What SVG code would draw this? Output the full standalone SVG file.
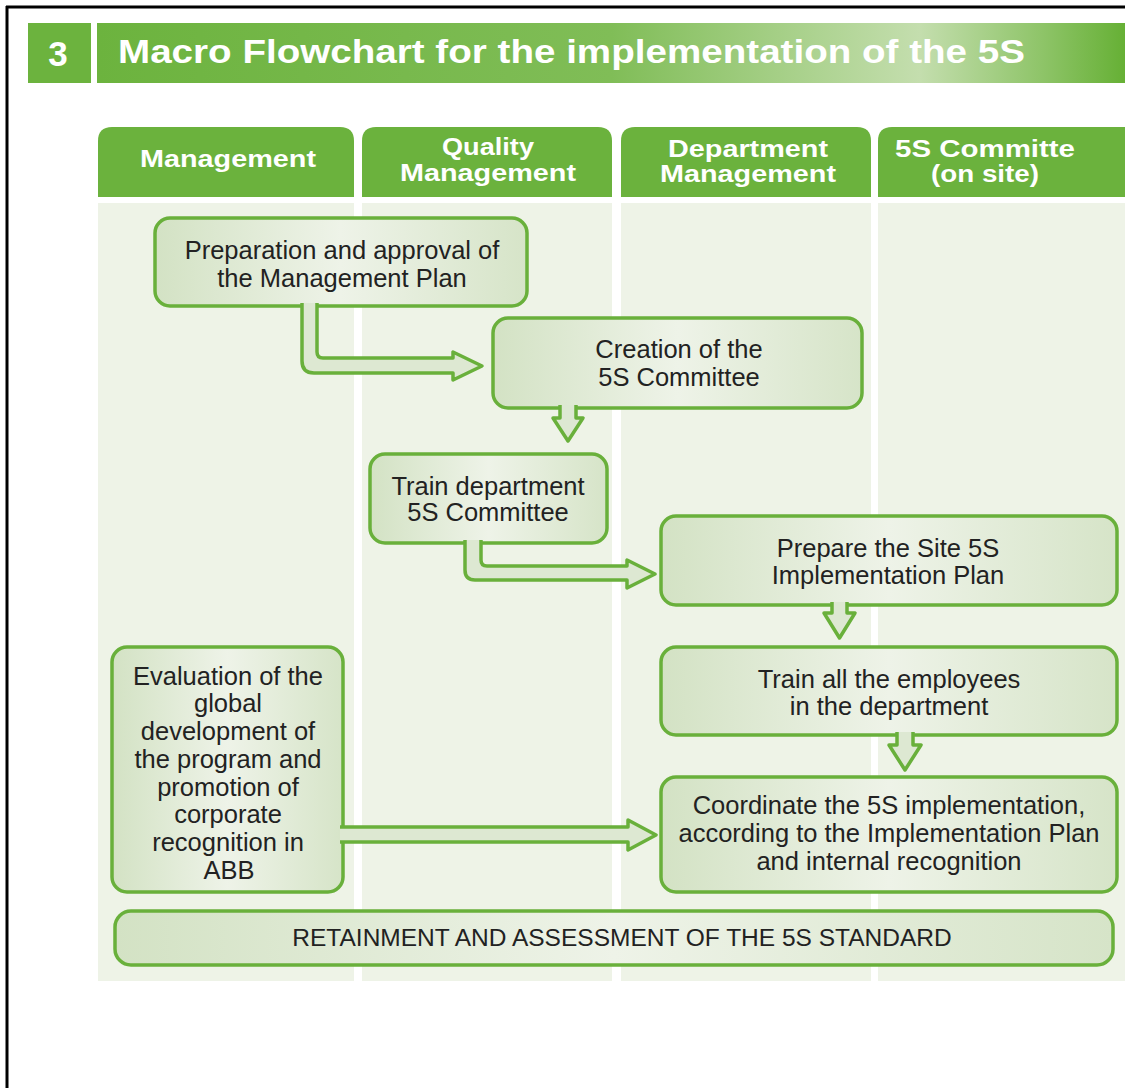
<svg xmlns="http://www.w3.org/2000/svg" width="1125" height="1088" viewBox="0 0 1125 1088">
<style>
.hdr{fill:#6bb23d}
.col{fill:#eef3e7}
.htxt{font-family:"Liberation Sans",Arial,sans-serif;font-weight:bold;font-size:23px;fill:#ffffff;text-anchor:middle}
.box{fill:url(#boxg);stroke:#69b03b;stroke-width:3.5}
.t{font-family:"Liberation Sans",Arial,sans-serif;font-size:25.5px;fill:#222222;text-anchor:middle}
.t8{font-family:"Liberation Sans",Arial,sans-serif;font-size:24.5px;fill:#222222;text-anchor:middle}
.arr{fill:#dde8d2;stroke:#69b03b;stroke-width:3.5;stroke-linejoin:round}
</style>
<defs>
<linearGradient id="titleg" x1="97" y1="0" x2="1125" y2="0" gradientUnits="userSpaceOnUse">
<stop offset="0" stop-color="#6cb33e"/>
<stop offset="0.5" stop-color="#80bd57"/>
<stop offset="0.8" stop-color="#c4deae"/>
<stop offset="0.92" stop-color="#8ec468"/>
<stop offset="1" stop-color="#66b035"/>
</linearGradient>
<linearGradient id="boxg" x1="0" y1="0" x2="1" y2="0">
<stop offset="0" stop-color="#d3e2c4"/>
<stop offset="0.5" stop-color="#eef3e8"/>
<stop offset="1" stop-color="#d6e4c8"/>
</linearGradient>
</defs>
<rect x="0" y="0" width="1125" height="1088" fill="#ffffff"/>
<line x1="7" y1="6" x2="7" y2="1088" stroke="#000000" stroke-width="3"/>
<line x1="6" y1="7" x2="1125" y2="7" stroke="#000000" stroke-width="3"/>

<g id="title">
<rect x="28" y="23" width="63" height="60" fill="#6cb33e"/>
<text x="58" y="66" font-family="'Liberation Sans',Arial,sans-serif" font-weight="bold" font-size="35" fill="#ffffff" text-anchor="middle">3</text>
<rect x="97" y="23" width="1028" height="60" fill="url(#titleg)"/>
<text x="118" y="63" font-family="'Liberation Sans',Arial,sans-serif" font-weight="bold" font-size="34" fill="#ffffff" textLength="907" lengthAdjust="spacingAndGlyphs">Macro Flowchart for the implementation of the 5S</text>
</g>

<g id="lanes">
<rect class="col" x="98" y="203" width="256" height="778"/>
<rect class="col" x="362" y="203" width="250" height="778"/>
<rect class="col" x="621" y="203" width="250" height="778"/>
<rect class="col" x="878" y="203" width="247" height="778"/>
<g id="lane-management">
<path class="hdr" d="M98,197 L98,141 Q98,127 112,127 L340,127 Q354,127 354,141 L354,197 Z"/>
<text class="htxt" x="228" y="167" textLength="176" lengthAdjust="spacingAndGlyphs">Management</text>
</g>
<g id="lane-quality">
<path class="hdr" d="M362,197 L362,141 Q362,127 376,127 L598,127 Q612,127 612,141 L612,197 Z"/>
<text class="htxt" x="488" y="155" textLength="92" lengthAdjust="spacingAndGlyphs">Quality</text>
<text class="htxt" x="488" y="181" textLength="176" lengthAdjust="spacingAndGlyphs">Management</text>
</g>
<g id="lane-department">
<path class="hdr" d="M621,197 L621,141 Q621,127 635,127 L857,127 Q871,127 871,141 L871,197 Z"/>
<text class="htxt" x="748" y="157" textLength="160" lengthAdjust="spacingAndGlyphs">Department</text>
<text class="htxt" x="748" y="182" textLength="176" lengthAdjust="spacingAndGlyphs">Management</text>
</g>
<g id="lane-committee">
<path class="hdr" d="M878,197 L878,141 Q878,127 892,127 L1140,127 L1140,197 Z"/>
<text class="htxt" x="985" y="157" textLength="180" lengthAdjust="spacingAndGlyphs">5S Committe</text>
<text class="htxt" x="985" y="182" textLength="108" lengthAdjust="spacingAndGlyphs">(on site)</text>
</g>
</g>

<g id="n1">
<rect class="box" x="155" y="218" width="372" height="88" rx="15"/>
<text class="t" x="342" y="259">Preparation and approval of</text>
<text class="t" x="342" y="287">the Management Plan</text>
</g>
<g id="n2">
<rect class="box" x="493" y="318" width="369" height="90" rx="15"/>
<text class="t" x="679" y="358">Creation of the</text>
<text class="t" x="679" y="386">5S Committee</text>
</g>
<g id="n3">
<rect class="box" x="370" y="454" width="237" height="89" rx="15"/>
<text class="t" x="488" y="495">Train department</text>
<text class="t" x="488" y="521">5S Committee</text>
</g>
<g id="n4">
<rect class="box" x="661" y="516" width="456" height="89" rx="15"/>
<text class="t" x="888" y="557">Prepare the Site 5S</text>
<text class="t" x="888" y="584">Implementation Plan</text>
</g>
<g id="n5">
<rect class="box" x="661" y="647" width="456" height="88" rx="15"/>
<text class="t" x="889" y="688">Train all the employees</text>
<text class="t" x="889" y="715">in the department</text>
</g>
<g id="n6">
<rect class="box" x="661" y="777" width="456" height="115" rx="15"/>
<text class="t" x="889" y="814">Coordinate the 5S implementation,</text>
<text class="t" x="889" y="842">according to the Implementation Plan</text>
<text class="t" x="889" y="870">and internal recognition</text>
</g>
<g id="n7">
<rect class="box" x="112" y="647" width="231" height="245" rx="15"/>
<text class="t" x="228" y="685">Evaluation of the</text>
<text class="t" x="228" y="712">global</text>
<text class="t" x="228" y="740">development of</text>
<text class="t" x="228" y="768">the program and</text>
<text class="t" x="228" y="796">promotion of</text>
<text class="t" x="228" y="823">corporate</text>
<text class="t" x="228" y="851">recognition in</text>
<text class="t" x="229" y="879">ABB</text>
</g>
<g id="n8">
<rect class="box" x="115" y="911" width="998" height="54" rx="16"/>
<text class="t8" x="622" y="946">RETAINMENT AND ASSESSMENT OF THE 5S STANDARD</text>
</g>

<g id="connectors">
<path class="arr" d="M302,303 L302,361 Q302,373 314,373 L453,373 L453,380 L482,366 L453,352 L453,358 L323,358 Q317,358 317,352 L317,303"/>
<path class="arr" d="M560,405 L560,418 L553,418 L568,441 L583,418 L576,418 L576,405"/>
<path class="arr" d="M465,540 L465,570 Q465,580 475,580 L627,580 L627,588 L655,574 L627,560 L627,566 L487,566 Q481,566 481,560 L481,540"/>
<path class="arr" d="M832,602 L832,613 L824,613 L839.5,638 L855,613 L847,613 L847,602"/>
<path class="arr" d="M897,732 L897,745 L889,745 L905,770 L921,745 L913,745 L913,732"/>
<path class="arr" d="M340,827 L628,827 L628,820 L656,835 L628,850 L628,842 L340,842"/>
</g>
</svg>
